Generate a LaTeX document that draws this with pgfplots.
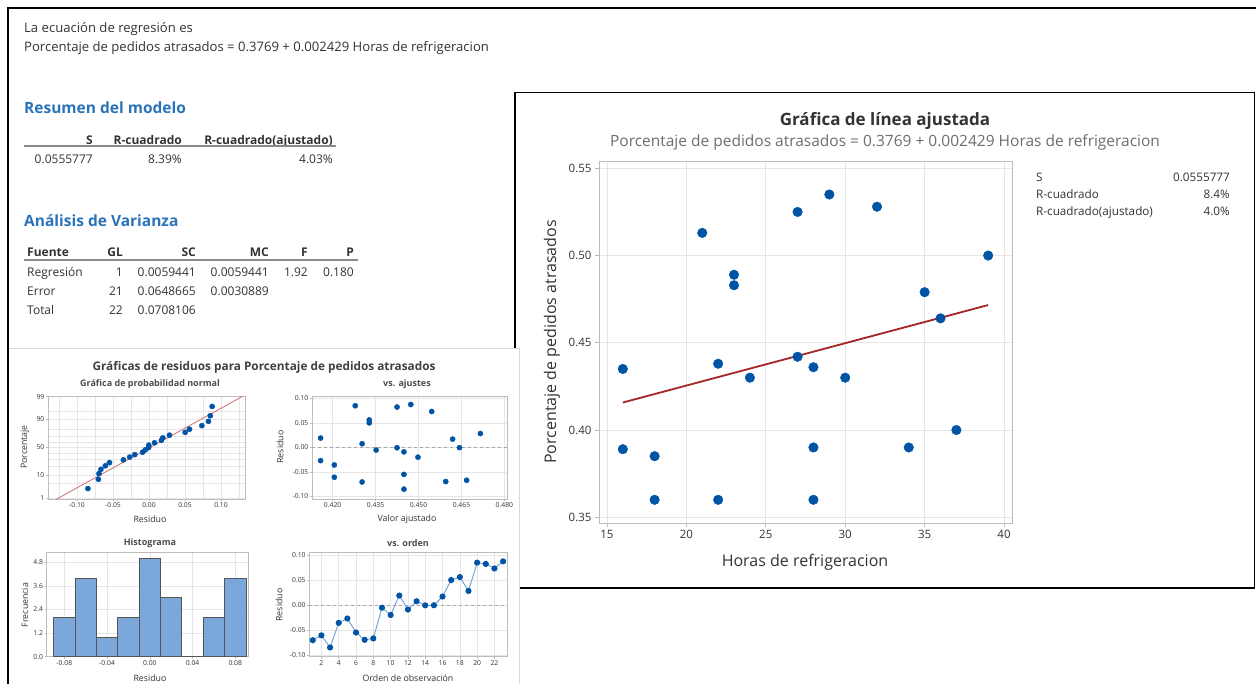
\documentclass[border=0pt]{standalone}
\usepackage{fontspec}
\setmainfont{Open Sans}
\usepackage{pgfplots}
\pgfplotsset{compat=1.18}

\definecolor{mtblue}{HTML}{0054A6}
\definecolor{fitred}{HTML}{A52424}
\definecolor{probred}{HTML}{D07070}
\definecolor{headblue}{HTML}{2B73B9}
\definecolor{txt}{HTML}{333333}
\definecolor{subtxt}{HTML}{6E6E6E}
\definecolor{gridc}{HTML}{E6E6E6}
\definecolor{framec}{HTML}{BDBDBD}
\definecolor{histfill}{HTML}{7BA7DA}
\definecolor{histedge}{HTML}{555555}
\definecolor{ordline}{HTML}{6A9FDB}
\definecolor{rulec}{HTML}{8A8A8A}

\newcommand{\fs}[1]{\fontsize{#1}{#1}\selectfont}

\pgfplotsset{
  mt/.style={scale only axis, anchor=south west,
    axis line style={framec, line width=0.8pt},
    tick style={framec, line width=0.6pt},
    tick pos=left, tick align=outside, scaled ticks=false,
    grid=major, grid style={gridc, line width=0.6pt}},
  mtbig/.style={mt, major tick length=4pt,
    ticklabel style={font=\fs{11.5}, text=txt}},
  mtsmall/.style={mt, major tick length=2pt,
    ticklabel style={font=\fs{6.8}, text=txt, inner sep=1.5pt}},
}
\tikzset{
  L/.style={anchor=mid west, yshift=-3.5pt},
  R/.style={anchor=mid east, yshift=-3.5pt},
  C/.style={anchor=mid, yshift=-3.5pt},
}

\begin{document}
\begin{tikzpicture}
\begin{scope}[x=1pt, y=-1pt]
  \fill[white] (0,0) rectangle (1256,684);
  % main fitted line panel
  \draw[line width=1.8pt, fill=white] (515,92.5) rectangle (1254.5,588);
  % residual panel on top of it
  \draw[black!15, line width=0.8pt, fill=white] (8,348) rectangle (519.5,686);
\end{scope}

% ---------- fitted line plot ----------
\begin{axis}[mtbig, at={(599pt,-523pt)}, width=413pt, height=362pt,
  xmin=14.5, xmax=40.5, ymin=0.3467, ymax=0.5542,
  xtick={15,20,25,30,35,40}, xticklabels={15,20,25,30,35,40},
  ytick={0.35,0.40,0.45,0.50,0.55},
  yticklabels={0.35,0.40,0.45,0.50,0.55}]
\addplot[fitred, line width=1.8pt] coordinates {(16,0.41576) (39,0.47163)};
\addplot[only marks, mark=*, mark size=4.8pt, mtblue,
  mark options={fill=mtblue, draw=mtblue}] table {
x y
16 0.435
16 0.389
18 0.385
18 0.360
21 0.513
22 0.438
22 0.360
23 0.489
23 0.483
24 0.430
27 0.525
27 0.442
28 0.436
28 0.390
28 0.360
29 0.535
30 0.430
32 0.528
34 0.390
35 0.479
36 0.464
37 0.400
39 0.500
};
\end{axis}

% ---------- normal probability plot ----------
\begin{axis}[mtsmall, at={(48pt,-499pt)}, width=197pt, height=103pt,
  xmin=-0.1403, xmax=0.1333, ymin=-2.36, ymax=2.36,
  xtick={-0.10,-0.05,0,0.05,0.10},
  xticklabels={-0.10,-0.05,0.00,0.05,0.10},
  minor xtick={-0.125,-0.075,-0.025,0.025,0.075,0.125},
  ytick={-2.3263,-1.2816,0,1.2816,2.3263},
  yticklabels={1,10,50,90,99},
  minor ytick={-1.6449,-0.8416,-0.5244,-0.2533,0.2533,0.5244,0.8416,1.6449},
  minor grid style={gridc, line width=0.5pt}, grid=both,
  minor tick length=0pt]
\addplot[probred, line width=0.8pt] coordinates {(-0.1287,-2.37) (0.1313,2.37)};
\addplot[only marks, mark=*, mark size=2.6pt, mtblue,
  mark options={fill=mtblue, draw=mtblue}] coordinates {
(-0.0849,-1.882) (-0.0703,-1.457) (-0.0695,-1.198) (-0.0668,-1.002)
(-0.0606,-0.838) (-0.0549,-0.695) (-0.0356,-0.565) (-0.0268,-0.442)
(-0.0198,-0.327) (-0.0089,-0.216) (-0.0052,-0.107) (-0.0005,0)
(-0.0003,0.107) (0.0077,0.216) (0.0171,0.327) (0.0192,0.442)
(0.0284,0.565) (0.0502,0.695) (0.0562,0.838) (0.0734,1.002)
(0.0825,1.198) (0.0851,1.457) (0.0877,1.882)};
\end{axis}

% ---------- residuals vs fits ----------
\begin{axis}[mtsmall, at={(312pt,-499pt)}, width=195pt, height=103pt,
  xmin=0.4128, xmax=0.4809, ymin=-0.105, ymax=0.105,
  xtick={0.420,0.435,0.450,0.465,0.480},
  xticklabels={0.420,0.435,0.450,0.465,0.480},
  ytick={-0.10,-0.05,0,0.05,0.10},
  yticklabels={-0.10,-0.05,0.00,0.05,0.10}]
\addplot[gray!70, dashed, line width=0.7pt] coordinates {(0.4128,0) (0.4809,0)};
\addplot[only marks, mark=*, mark size=2.6pt, mtblue,
  mark options={fill=mtblue, draw=mtblue}] coordinates {
(0.4158,0.0192) (0.4158,-0.0268) (0.4206,-0.0356) (0.4206,-0.0606)
(0.4279,0.0851) (0.4303,0.0077) (0.4303,-0.0703) (0.4328,0.0562)
(0.4328,0.0502) (0.4352,-0.0052) (0.4425,0.0825) (0.4425,-0.0005)
(0.4449,-0.0089) (0.4449,-0.0549) (0.4449,-0.0849) (0.4473,0.0877)
(0.4498,-0.0198) (0.4546,0.0734) (0.4595,-0.0695) (0.4619,0.0171)
(0.4643,-0.0003) (0.4668,-0.0668) (0.4716,0.0284)};
\end{axis}

% ---------- histogram ----------
\begin{axis}[mtsmall, at={(46.7pt,-656.7pt)}, width=201.6pt, height=104pt,
  xmin=-0.0965, xmax=0.0922, ymin=0, ymax=5.29,
  xtick={-0.08,-0.04,0,0.04,0.08},
  xticklabels={-0.08,-0.04,0.00,0.04,0.08},
  ytick={0,1.2,2.4,3.6,4.8},
  yticklabels={0.0,1.2,2.4,3.6,4.8}]
\addplot[ybar interval, fill=histfill, draw=histedge, line width=0.8pt]
  coordinates {(-0.09,2) (-0.07,4) (-0.05,1) (-0.03,2) (-0.01,5)
  (0.01,3) (0.03,0) (0.05,2) (0.07,4) (0.09,4)};
\end{axis}

% ---------- residuals vs order ----------
\begin{axis}[mtsmall, at={(309.3pt,-656.7pt)}, width=197.7pt, height=104pt,
  xmin=0.6, xmax=23.45, ymin=-0.1034, ymax=0.105,
  xtick={2,4,...,22}, xticklabels={2,4,6,8,10,12,14,16,18,20,22},
  ytick={-0.10,-0.05,0,0.05,0.10},
  yticklabels={-0.10,-0.05,0.00,0.05,0.10}]
\addplot[gray!70, dashed, line width=0.7pt] coordinates {(0.6,0) (23.45,0)};
\addplot[ordline, line width=0.9pt, mark=*, mark size=2.6pt,
  mark options={fill=mtblue, draw=mtblue}] coordinates {
(1,-0.0703) (2,-0.0606) (3,-0.0849) (4,-0.0356) (5,-0.0268) (6,-0.0549)
(7,-0.0695) (8,-0.0668) (9,-0.0052) (10,-0.0198) (11,0.0192) (12,-0.0089)
(13,0.0077) (14,-0.0005) (15,-0.0003) (16,0.0171) (17,0.0502) (18,0.0562)
(19,0.0284) (20,0.0851) (21,0.0825) (22,0.0734) (23,0.0877)};
\end{axis}

\begin{scope}[x=1pt, y=-1pt, every node/.style={inner sep=0pt, text=txt}]
  % outer frame
  \draw[line width=2.5pt] (8,686) -- (8,8) -- (1258,8);

  % session text
  \node[L, font=\fs{13.1}] at (24,26) {La ecuación de regresión es};
  \node[L, font=\fs{13.1}] at (24,45)
    {Porcentaje de pedidos atrasados = 0.3769 + 0.002429 Horas de refrigeracion};

  \node[L, font=\fs{15.5}\bfseries, text=headblue] at (24,107) {Resumen del modelo};
  \node[R, font=\fs{12}\bfseries] at (93,138) {S};
  \node[R, font=\fs{12}\bfseries] at (182,138) {R-cuadrado};
  \node[R, font=\fs{12}\bfseries] at (333,138) {R-cuadrado(ajustado)};
  \draw[rulec, line width=1.3pt] (24,146) -- (336,146);
  \node[R, font=\fs{12}] at (93,157) {0.0555777};
  \node[R, font=\fs{12}] at (182,157) {8.39\%};
  \node[R, font=\fs{12}] at (333,157) {4.03\%};

  \node[L, font=\fs{15.5}\bfseries, text=headblue] at (24,220) {Análisis de Varianza};
  \node[L, font=\fs{12}\bfseries] at (27,250) {Fuente};
  \node[R, font=\fs{12}\bfseries] at (123,250) {GL};
  \node[R, font=\fs{12}\bfseries] at (196,250) {SC};
  \node[R, font=\fs{12}\bfseries] at (269,250) {MC};
  \node[R, font=\fs{12}\bfseries] at (308,250) {F};
  \node[R, font=\fs{12}\bfseries] at (354,250) {P};
  \draw[rulec, line width=1.3pt] (24,260) -- (358,260);
  \node[L, font=\fs{12}] at (27,270) {Regresión};
  \node[R, font=\fs{12}] at (123,270) {1};
  \node[R, font=\fs{12}] at (196,270) {0.0059441};
  \node[R, font=\fs{12}] at (269,270) {0.0059441};
  \node[R, font=\fs{12}] at (308,270) {1.92};
  \node[R, font=\fs{12}] at (354,270) {0.180};
  \node[L, font=\fs{12}] at (27,289) {Error};
  \node[R, font=\fs{12}] at (123,289) {21};
  \node[R, font=\fs{12}] at (196,289) {0.0648665};
  \node[R, font=\fs{12}] at (269,289) {0.0030889};
  \node[L, font=\fs{12}] at (27,308) {Total};
  \node[R, font=\fs{12}] at (123,308) {22};
  \node[R, font=\fs{12}] at (196,308) {0.0708106};

  % fitted line plot texts
  \node[C, font=\fs{17}\bfseries] at (885,119) {Gráfica de línea ajustada};
  \node[C, font=\fs{15.5}, text=subtxt] at (885,140)
    {Porcentaje de pedidos atrasados = 0.3769 + 0.002429 Horas de refrigeracion};
  \node[rotate=90, font=\fs{16}] at (552,342) {Porcentaje de pedidos atrasados};
  \node[font=\fs{16}] at (805,562) {Horas de refrigeracion};
  \node[L, font=\fs{11.7}] at (1036,175) {S};
  \node[L, font=\fs{11.7}] at (1036,192) {R-cuadrado};
  \node[L, font=\fs{11.7}] at (1036,209) {R-cuadrado(ajustado)};
  \node[R, font=\fs{11.7}] at (1230,175) {0.0555777};
  \node[R, font=\fs{11.7}] at (1230,192) {8.4\%};
  \node[R, font=\fs{11.7}] at (1230,209) {4.0\%};

  % residual panel texts
  \node[font=\fs{11.8}\bfseries, text=black!75] at (264,367) {Gráficas de residuos para Porcentaje de pedidos atrasados};
  \node[font=\fs{9}\bfseries, text=black!70] at (150,384) {Gráfica de probabilidad normal};
  \node[font=\fs{9}\bfseries, text=black!70] at (407,384) {vs. ajustes};
  \node[font=\fs{9}\bfseries, text=black!70] at (150,543) {Histograma};
  \node[font=\fs{9}\bfseries, text=black!70] at (408,543) {vs. orden};
  \node[rotate=90, font=\fs{8.8}] at (25,447) {Porcentaje};
  \node[rotate=90, font=\fs{8.8}] at (280,447) {Residuo};
  \node[rotate=90, font=\fs{8.8}] at (25,605) {Frecuencia};
  \node[rotate=90, font=\fs{8.8}] at (279,605) {Residuo};
  \node[font=\fs{8.8}] at (150,519) {Residuo};
  \node[font=\fs{8.8}] at (407,519) {Valor ajustado};
  \node[font=\fs{8.8}] at (150,678) {Residuo};
  \node[font=\fs{8.8}] at (408,678) {Orden de observación};

  \pgfresetboundingbox
  \path[use as bounding box] (0,0) rectangle (1256,684);
\end{scope}
\end{tikzpicture}
\end{document}
